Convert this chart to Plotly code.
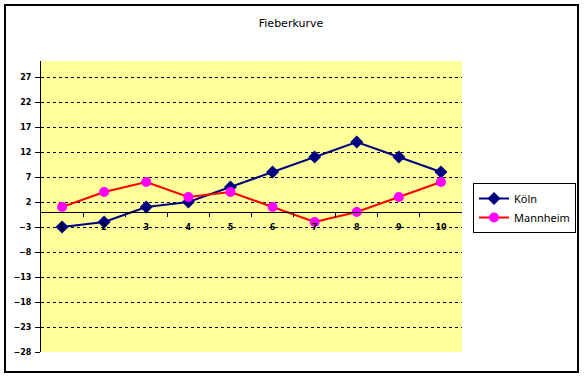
import plotly.graph_objects as go

categories = [1, 2, 3, 4, 5, 6, 7, 8, 9, 10]
koeln = [-3, -2, 1, 2, 5, 8, 11, 14, 11, 8]
mannheim = [1, 4, 6, 3, 4, 1, -2, 0, 3, 6]
y_ticks = [-28, -23, -18, -13, -8, -3, 2, 7, 12, 17, 22, 27]
title_text = "Fieberkurve"

W, H = 584, 377
L, R, T, B = 41, 122, 61, 25
pw, ph = W - L - R, H - T - B
ymin, ymax = -28, 30.2

def px_to_paper_x(px):
    return (px - L) / pw

def px_to_paper_y(py):
    return (H - B - py) / ph

tick_font = dict(family="DejaVu Sans, sans-serif", size=8, color="black", weight="bold")

fig = go.Figure()
fig.add_trace(go.Scatter(
    x=categories, y=koeln, name="Köln", mode="lines+markers",
    line=dict(color="#000080", width=2),
    marker=dict(symbol="diamond", size=10, color="#000080"),
))
fig.add_trace(go.Scatter(
    x=categories, y=mannheim, name="Mannheim", mode="lines+markers",
    line=dict(color="#FF0000", width=2),
    marker=dict(symbol="circle", size=10, color="#FF00FF"),
))

fig.update_layout(
    width=W, height=H,
    margin=dict(l=L, r=R, t=T, b=B),
    paper_bgcolor="white",
    plot_bgcolor="#FFFF99",
    font=dict(family="DejaVu Sans, sans-serif", size=10, color="black"),
    title=dict(text=title_text, x=291 / W, xanchor="center", xref="container",
               y=1 - 23 / H, yanchor="middle", yref="container",
               font=dict(family="DejaVu Sans, sans-serif", size=11, color="black")),
    showlegend=True,
    legend=dict(xref="container", yref="container", x=473 / W, y=1 - 183 / H,
                xanchor="left", yanchor="top", bordercolor="black", borderwidth=1,
                bgcolor="white", font=dict(family="Noto Sans, sans-serif", size=11),
                itemwidth=30, tracegroupgap=0),
    xaxis=dict(
        range=[0.5, 10.5], tickmode="array", tickvals=categories,
        ticktext=[str(c) for c in categories], ticks="",
        showgrid=False, zeroline=False, showline=True, linecolor="black",
        linewidth=1, anchor="free", position=(0 - ymin) / (ymax - ymin),
        minor=dict(tickmode="array", tickvals=[c + 0.5 for c in categories[:-1]],
                   ticks="outside", ticklen=4, tickcolor="black", showgrid=False),
        ticklabelstandoff=7, tickfont=tick_font,
    ),
    yaxis=dict(
        range=[ymin, ymax], tickmode="array", tickvals=y_ticks,
        ticks="outside", ticklen=5, tickcolor="black", showgrid=False,
        zeroline=False, showline=True, linecolor="black", linewidth=1,
        minor=dict(tickmode="array", tickvals=y_ticks[1:], ticks="",
                   showgrid=True, gridcolor="black", gridwidth=1, griddash="3px,3px"),
        tickfont=tick_font, ticklabelstandoff=2,
    ),
    shapes=[dict(type="rect", xref="paper", yref="paper",
                 x0=px_to_paper_x(5), x1=px_to_paper_x(578),
                 y0=px_to_paper_y(372), y1=px_to_paper_y(5),
                 line=dict(color="black", width=2), fillcolor="rgba(0,0,0,0)",
                 layer="above")],
)

fig.write_html("out.html", config={"displayModeBar": False},
               post_script="document.body.style.margin='0';document.body.style.overflow='hidden';")
